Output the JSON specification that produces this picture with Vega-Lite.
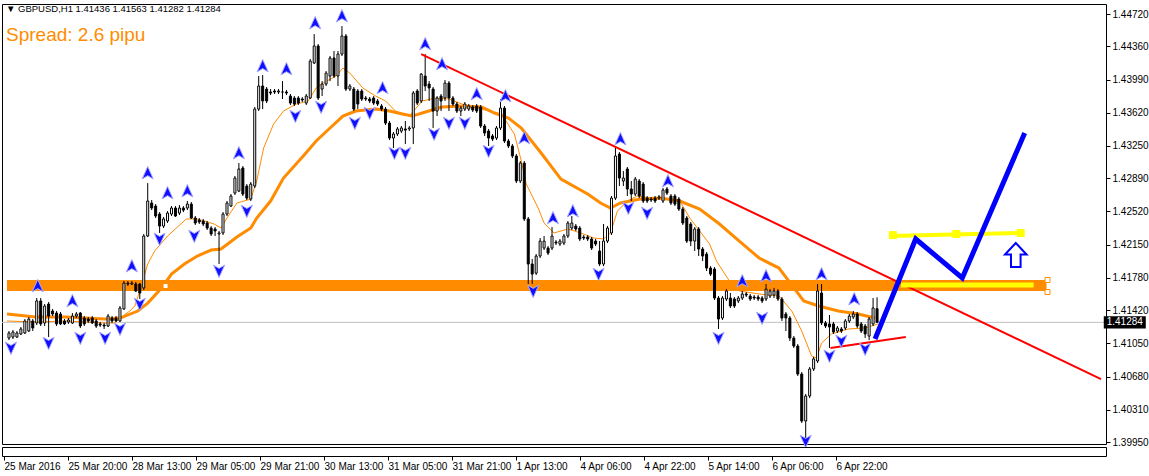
{
"$schema": "https://vega.github.io/schema/vega-lite/v6.json",
"background": "white",
"padding": {"left": 1, "top": 3, "right": 0, "bottom": 0},
"spacing": 3,
"bounds": "flush",
"config": {
 "view": {"stroke": "#000", "strokeWidth": 1},
 "axis": {"labelFont": "Liberation Sans", "labelFontSize": 10, "labelColor": "#000", "tickColor": "#000", "domain": false, "grid": false, "labelOverlap": false}
},
"datasets": {
"candles": [
{"i":0,"o":1.41109,"h":1.41187,"l":1.41086,"c":1.41165},
{"i":1,"o":1.41120,"h":1.41198,"l":1.41098,"c":1.41176},
{"i":2,"o":1.41120,"h":1.41187,"l":1.41109,"c":1.41165},
{"i":3,"o":1.41154,"h":1.41232,"l":1.41142,"c":1.41210},
{"i":4,"o":1.41165,"h":1.41321,"l":1.41154,"c":1.41299},
{"i":5,"o":1.41187,"h":1.41343,"l":1.41176,"c":1.41321},
{"i":6,"o":1.41299,"h":1.41321,"l":1.41187,"c":1.41221},
{"i":7,"o":1.41277,"h":1.41555,"l":1.41254,"c":1.41522},
{"i":8,"o":1.41522,"h":1.41555,"l":1.41243,"c":1.41266},
{"i":9,"o":1.41277,"h":1.41488,"l":1.41243,"c":1.41466},
{"i":10,"o":1.41488,"h":1.41511,"l":1.41120,"c":1.41354},
{"i":11,"o":1.41410,"h":1.41433,"l":1.41354,"c":1.41377},
{"i":12,"o":1.41388,"h":1.41410,"l":1.41243,"c":1.41266},
{"i":13,"o":1.41377,"h":1.41399,"l":1.41254,"c":1.41266},
{"i":14,"o":1.41299,"h":1.41321,"l":1.41254,"c":1.41266},
{"i":15,"o":1.41288,"h":1.41332,"l":1.41266,"c":1.41310},
{"i":16,"o":1.41277,"h":1.41388,"l":1.41266,"c":1.41354},
{"i":17,"o":1.41354,"h":1.41399,"l":1.41332,"c":1.41377},
{"i":18,"o":1.41388,"h":1.41399,"l":1.41221,"c":1.41243},
{"i":19,"o":1.41332,"h":1.41354,"l":1.41243,"c":1.41266},
{"i":20,"o":1.41321,"h":1.41343,"l":1.41277,"c":1.41299},
{"i":21,"o":1.41332,"h":1.41354,"l":1.41266,"c":1.41277},
{"i":22,"o":1.41299,"h":1.41321,"l":1.41221,"c":1.41243},
{"i":23,"o":1.41266,"h":1.41288,"l":1.41232,"c":1.41254},
{"i":24,"o":1.41254,"h":1.41277,"l":1.41210,"c":1.41243},
{"i":25,"o":1.41243,"h":1.41377,"l":1.41232,"c":1.41354},
{"i":26,"o":1.41332,"h":1.41354,"l":1.41277,"c":1.41299},
{"i":27,"o":1.41332,"h":1.41354,"l":1.41288,"c":1.41299},
{"i":28,"o":1.41299,"h":1.41466,"l":1.41288,"c":1.41444},
{"i":29,"o":1.41433,"h":1.41744,"l":1.41421,"c":1.41722},
{"i":30,"o":1.41722,"h":1.41744,"l":1.41689,"c":1.41711},
{"i":31,"o":1.41711,"h":1.41744,"l":1.41700,"c":1.41722},
{"i":32,"o":1.41711,"h":1.41733,"l":1.41622,"c":1.41633},
{"i":33,"o":1.41711,"h":1.41722,"l":1.41544,"c":1.41611},
{"i":34,"o":1.41667,"h":1.42269,"l":1.41644,"c":1.42246},
{"i":35,"o":1.42246,"h":1.42836,"l":1.42235,"c":1.42636},
{"i":36,"o":1.42614,"h":1.42647,"l":1.42535,"c":1.42558},
{"i":37,"o":1.42580,"h":1.42602,"l":1.42447,"c":1.42469},
{"i":38,"o":1.42491,"h":1.42513,"l":1.42280,"c":1.42357},
{"i":39,"o":1.42357,"h":1.42458,"l":1.42335,"c":1.42436},
{"i":40,"o":1.42413,"h":1.42524,"l":1.42391,"c":1.42502},
{"i":41,"o":1.42491,"h":1.42580,"l":1.42469,"c":1.42558},
{"i":42,"o":1.42558,"h":1.42580,"l":1.42458,"c":1.42469},
{"i":43,"o":1.42502,"h":1.42591,"l":1.42480,"c":1.42558},
{"i":44,"o":1.42558,"h":1.42580,"l":1.42513,"c":1.42535},
{"i":45,"o":1.42558,"h":1.42636,"l":1.42535,"c":1.42602},
{"i":46,"o":1.42602,"h":1.42625,"l":1.42436,"c":1.42447},
{"i":47,"o":1.42447,"h":1.42469,"l":1.42369,"c":1.42391},
{"i":48,"o":1.42424,"h":1.42447,"l":1.42380,"c":1.42402},
{"i":49,"o":1.42413,"h":1.42436,"l":1.42357,"c":1.42380},
{"i":50,"o":1.42391,"h":1.42413,"l":1.42313,"c":1.42335},
{"i":51,"o":1.42335,"h":1.42357,"l":1.42246,"c":1.42269},
{"i":52,"o":1.42324,"h":1.42346,"l":1.42246,"c":1.42302},
{"i":53,"o":1.42269,"h":1.42302,"l":1.41934,"c":1.42280},
{"i":54,"o":1.42280,"h":1.42513,"l":1.42257,"c":1.42491},
{"i":55,"o":1.42491,"h":1.42636,"l":1.42469,"c":1.42614},
{"i":56,"o":1.42580,"h":1.42714,"l":1.42569,"c":1.42692},
{"i":57,"o":1.42725,"h":1.42915,"l":1.42703,"c":1.42892},
{"i":58,"o":1.42747,"h":1.43059,"l":1.42736,"c":1.42993},
{"i":59,"o":1.43004,"h":1.43026,"l":1.42692,"c":1.42714},
{"i":60,"o":1.42803,"h":1.42825,"l":1.42647,"c":1.42669},
{"i":61,"o":1.42658,"h":1.42848,"l":1.42636,"c":1.42825},
{"i":62,"o":1.42803,"h":1.43684,"l":1.42781,"c":1.43661},
{"i":63,"o":1.43661,"h":1.44029,"l":1.43639,"c":1.43918},
{"i":64,"o":1.43918,"h":1.44040,"l":1.43661,"c":1.43751},
{"i":65,"o":1.43884,"h":1.43907,"l":1.43728,"c":1.43751},
{"i":66,"o":1.43851,"h":1.43884,"l":1.43817,"c":1.43840},
{"i":67,"o":1.43862,"h":1.43884,"l":1.43829,"c":1.43851},
{"i":68,"o":1.43851,"h":1.43884,"l":1.43829,"c":1.43862},
{"i":69,"o":1.43851,"h":1.43973,"l":1.43773,"c":1.43851},
{"i":70,"o":1.43851,"h":1.43873,"l":1.43817,"c":1.43840},
{"i":71,"o":1.43806,"h":1.43829,"l":1.43706,"c":1.43728},
{"i":72,"o":1.43784,"h":1.43806,"l":1.43695,"c":1.43717},
{"i":73,"o":1.43784,"h":1.43806,"l":1.43706,"c":1.43728},
{"i":74,"o":1.43773,"h":1.43795,"l":1.43740,"c":1.43762},
{"i":75,"o":1.43728,"h":1.43829,"l":1.43706,"c":1.43806},
{"i":76,"o":1.43784,"h":1.44219,"l":1.43773,"c":1.44196},
{"i":77,"o":1.44174,"h":1.44497,"l":1.44163,"c":1.44364},
{"i":78,"o":1.44364,"h":1.44386,"l":1.43762,"c":1.43784},
{"i":79,"o":1.43884,"h":1.43973,"l":1.43806,"c":1.43940},
{"i":80,"o":1.43940,"h":1.44085,"l":1.43918,"c":1.44062},
{"i":81,"o":1.44029,"h":1.44252,"l":1.43973,"c":1.44230},
{"i":82,"o":1.44230,"h":1.44308,"l":1.44007,"c":1.44029},
{"i":83,"o":1.44029,"h":1.44308,"l":1.43918,"c":1.44274},
{"i":84,"o":1.44274,"h":1.44586,"l":1.44252,"c":1.44475},
{"i":85,"o":1.44475,"h":1.44497,"l":1.43862,"c":1.43884},
{"i":86,"o":1.43884,"h":1.43940,"l":1.43862,"c":1.43918},
{"i":87,"o":1.43884,"h":1.43907,"l":1.43639,"c":1.43661},
{"i":88,"o":1.43862,"h":1.43884,"l":1.43661,"c":1.43717},
{"i":89,"o":1.43862,"h":1.43884,"l":1.43751,"c":1.43773},
{"i":90,"o":1.43784,"h":1.43806,"l":1.43751,"c":1.43773},
{"i":91,"o":1.43773,"h":1.43795,"l":1.43728,"c":1.43751},
{"i":92,"o":1.43784,"h":1.43806,"l":1.43706,"c":1.43728},
{"i":93,"o":1.43751,"h":1.43773,"l":1.43695,"c":1.43717},
{"i":94,"o":1.43695,"h":1.43717,"l":1.43639,"c":1.43661},
{"i":95,"o":1.43661,"h":1.43684,"l":1.43483,"c":1.43505},
{"i":96,"o":1.43505,"h":1.43528,"l":1.43316,"c":1.43338},
{"i":97,"o":1.43338,"h":1.43405,"l":1.43227,"c":1.43383},
{"i":98,"o":1.43383,"h":1.43461,"l":1.43361,"c":1.43439},
{"i":99,"o":1.43416,"h":1.43472,"l":1.43394,"c":1.43450},
{"i":100,"o":1.43439,"h":1.43528,"l":1.43271,"c":1.43427},
{"i":101,"o":1.43439,"h":1.43472,"l":1.43416,"c":1.43450},
{"i":102,"o":1.43450,"h":1.43862,"l":1.43271,"c":1.43840},
{"i":103,"o":1.43862,"h":1.43884,"l":1.43706,"c":1.43728},
{"i":104,"o":1.43751,"h":1.44062,"l":1.43728,"c":1.44051},
{"i":105,"o":1.44029,"h":1.44274,"l":1.43862,"c":1.43918},
{"i":106,"o":1.43940,"h":1.43973,"l":1.43751,"c":1.43896},
{"i":107,"o":1.43884,"h":1.43907,"l":1.43450,"c":1.43639},
{"i":108,"o":1.43639,"h":1.43806,"l":1.43583,"c":1.43784},
{"i":109,"o":1.43806,"h":1.43829,"l":1.43639,"c":1.43751},
{"i":110,"o":1.43784,"h":1.43985,"l":1.43751,"c":1.43951},
{"i":111,"o":1.43951,"h":1.43973,"l":1.43639,"c":1.43784},
{"i":112,"o":1.43784,"h":1.43806,"l":1.43695,"c":1.43717},
{"i":113,"o":1.43717,"h":1.43740,"l":1.43617,"c":1.43639},
{"i":114,"o":1.43639,"h":1.43695,"l":1.43583,"c":1.43672},
{"i":115,"o":1.43661,"h":1.43740,"l":1.43639,"c":1.43717},
{"i":116,"o":1.43661,"h":1.43717,"l":1.43639,"c":1.43695},
{"i":117,"o":1.43684,"h":1.43706,"l":1.43628,"c":1.43650},
{"i":118,"o":1.43695,"h":1.43717,"l":1.43617,"c":1.43639},
{"i":119,"o":1.43684,"h":1.43706,"l":1.43450,"c":1.43472},
{"i":120,"o":1.43472,"h":1.43494,"l":1.43361,"c":1.43394},
{"i":121,"o":1.43416,"h":1.43439,"l":1.43249,"c":1.43338},
{"i":122,"o":1.43361,"h":1.43383,"l":1.43305,"c":1.43327},
{"i":123,"o":1.43338,"h":1.43472,"l":1.43316,"c":1.43450},
{"i":124,"o":1.43450,"h":1.43773,"l":1.43427,"c":1.43672},
{"i":125,"o":1.43672,"h":1.43695,"l":1.43283,"c":1.43305},
{"i":126,"o":1.43305,"h":1.43327,"l":1.43227,"c":1.43249},
{"i":127,"o":1.43249,"h":1.43271,"l":1.43115,"c":1.43138},
{"i":128,"o":1.43138,"h":1.43160,"l":1.42836,"c":1.42859},
{"i":129,"o":1.42859,"h":1.43082,"l":1.42836,"c":1.43059},
{"i":130,"o":1.43059,"h":1.43082,"l":1.42413,"c":1.42436},
{"i":131,"o":1.42436,"h":1.42458,"l":1.41711,"c":1.41934},
{"i":132,"o":1.41934,"h":1.41990,"l":1.41711,"c":1.41822},
{"i":133,"o":1.41833,"h":1.42045,"l":1.41811,"c":1.42023},
{"i":134,"o":1.42023,"h":1.42224,"l":1.42001,"c":1.42190},
{"i":135,"o":1.42112,"h":1.42246,"l":1.42090,"c":1.42190},
{"i":136,"o":1.42112,"h":1.42134,"l":1.42034,"c":1.42056},
{"i":137,"o":1.42112,"h":1.42346,"l":1.42090,"c":1.42246},
{"i":138,"o":1.42179,"h":1.42201,"l":1.42145,"c":1.42168},
{"i":139,"o":1.42157,"h":1.42213,"l":1.42134,"c":1.42190},
{"i":140,"o":1.42168,"h":1.42269,"l":1.42145,"c":1.42246},
{"i":141,"o":1.42246,"h":1.42413,"l":1.42224,"c":1.42391},
{"i":142,"o":1.42335,"h":1.42469,"l":1.42313,"c":1.42391},
{"i":143,"o":1.42357,"h":1.42380,"l":1.42302,"c":1.42324},
{"i":144,"o":1.42335,"h":1.42357,"l":1.42190,"c":1.42213},
{"i":145,"o":1.42235,"h":1.42257,"l":1.42201,"c":1.42224},
{"i":146,"o":1.42235,"h":1.42257,"l":1.42190,"c":1.42213},
{"i":147,"o":1.42213,"h":1.42235,"l":1.42090,"c":1.42112},
{"i":148,"o":1.42190,"h":1.42213,"l":1.42134,"c":1.42157},
{"i":149,"o":1.42079,"h":1.42190,"l":1.41911,"c":1.41934},
{"i":150,"o":1.41934,"h":1.42380,"l":1.41911,"c":1.42190},
{"i":151,"o":1.42190,"h":1.42357,"l":1.42168,"c":1.42335},
{"i":152,"o":1.42280,"h":1.42692,"l":1.42257,"c":1.42669},
{"i":153,"o":1.42669,"h":1.43227,"l":1.42647,"c":1.43138},
{"i":154,"o":1.43160,"h":1.43182,"l":1.42803,"c":1.42892},
{"i":155,"o":1.42859,"h":1.42970,"l":1.42803,"c":1.42892},
{"i":156,"o":1.42993,"h":1.43015,"l":1.42692,"c":1.42770},
{"i":157,"o":1.42770,"h":1.42859,"l":1.42636,"c":1.42714},
{"i":158,"o":1.42714,"h":1.42904,"l":1.42692,"c":1.42881},
{"i":159,"o":1.42859,"h":1.42881,"l":1.42669,"c":1.42692},
{"i":160,"o":1.42825,"h":1.42848,"l":1.42614,"c":1.42636},
{"i":161,"o":1.42669,"h":1.42692,"l":1.42614,"c":1.42636},
{"i":162,"o":1.42658,"h":1.42681,"l":1.42625,"c":1.42647},
{"i":163,"o":1.42669,"h":1.42692,"l":1.42614,"c":1.42636},
{"i":164,"o":1.42669,"h":1.42703,"l":1.42647,"c":1.42681},
{"i":165,"o":1.42636,"h":1.42781,"l":1.42614,"c":1.42759},
{"i":166,"o":1.42770,"h":1.42792,"l":1.42703,"c":1.42725},
{"i":167,"o":1.42692,"h":1.42714,"l":1.42591,"c":1.42614},
{"i":168,"o":1.42692,"h":1.42714,"l":1.42580,"c":1.42602},
{"i":169,"o":1.42658,"h":1.42681,"l":1.42524,"c":1.42547},
{"i":170,"o":1.42547,"h":1.42569,"l":1.42369,"c":1.42391},
{"i":171,"o":1.42447,"h":1.42469,"l":1.42168,"c":1.42190},
{"i":172,"o":1.42380,"h":1.42402,"l":1.42134,"c":1.42190},
{"i":173,"o":1.42190,"h":1.42346,"l":1.42079,"c":1.42324},
{"i":174,"o":1.42324,"h":1.42346,"l":1.42023,"c":1.42101},
{"i":175,"o":1.42101,"h":1.42123,"l":1.41967,"c":1.42023},
{"i":176,"o":1.42045,"h":1.42068,"l":1.41856,"c":1.41889},
{"i":177,"o":1.41889,"h":1.41911,"l":1.41800,"c":1.41822},
{"i":178,"o":1.41878,"h":1.41900,"l":1.41533,"c":1.41555},
{"i":179,"o":1.41555,"h":1.41577,"l":1.41210,"c":1.41321},
{"i":180,"o":1.41332,"h":1.41577,"l":1.41310,"c":1.41555},
{"i":181,"o":1.41544,"h":1.41655,"l":1.41522,"c":1.41633},
{"i":182,"o":1.41555,"h":1.41611,"l":1.41444,"c":1.41466},
{"i":183,"o":1.41544,"h":1.41566,"l":1.41444,"c":1.41466},
{"i":184,"o":1.41522,"h":1.41577,"l":1.41499,"c":1.41555},
{"i":185,"o":1.41555,"h":1.41633,"l":1.41533,"c":1.41600},
{"i":186,"o":1.41600,"h":1.41622,"l":1.41566,"c":1.41588},
{"i":187,"o":1.41577,"h":1.41600,"l":1.41522,"c":1.41544},
{"i":188,"o":1.41566,"h":1.41588,"l":1.41533,"c":1.41555},
{"i":189,"o":1.41566,"h":1.41588,"l":1.41522,"c":1.41544},
{"i":190,"o":1.41555,"h":1.41577,"l":1.41499,"c":1.41522},
{"i":191,"o":1.41544,"h":1.41711,"l":1.41522,"c":1.41655},
{"i":192,"o":1.41577,"h":1.41655,"l":1.41555,"c":1.41633},
{"i":193,"o":1.41588,"h":1.41667,"l":1.41555,"c":1.41633},
{"i":194,"o":1.41633,"h":1.41655,"l":1.41522,"c":1.41544},
{"i":195,"o":1.41544,"h":1.41566,"l":1.41299,"c":1.41332},
{"i":196,"o":1.41377,"h":1.41399,"l":1.41187,"c":1.41332},
{"i":197,"o":1.41332,"h":1.41354,"l":1.41076,"c":1.41109},
{"i":198,"o":1.41109,"h":1.41131,"l":1.40998,"c":1.41020},
{"i":199,"o":1.41020,"h":1.41042,"l":1.40686,"c":1.40708},
{"i":200,"o":1.40708,"h":1.40730,"l":1.40162,"c":1.40184},
{"i":201,"o":1.40184,"h":1.40486,"l":1.39995,"c":1.40463},
{"i":202,"o":1.40463,"h":1.40786,"l":1.40440,"c":1.40764},
{"i":203,"o":1.40764,"h":1.40898,"l":1.40741,"c":1.40876},
{"i":204,"o":1.40853,"h":1.41711,"l":1.40831,"c":1.41633},
{"i":205,"o":1.41611,"h":1.41711,"l":1.41254,"c":1.41277},
{"i":206,"o":1.41277,"h":1.41299,"l":1.41221,"c":1.41243},
{"i":207,"o":1.41266,"h":1.41366,"l":1.40998,"c":1.41232},
{"i":208,"o":1.41266,"h":1.41288,"l":1.41154,"c":1.41176},
{"i":209,"o":1.41187,"h":1.41243,"l":1.41165,"c":1.41221},
{"i":210,"o":1.41210,"h":1.41232,"l":1.41165,"c":1.41187},
{"i":211,"o":1.41221,"h":1.41321,"l":1.41198,"c":1.41299},
{"i":212,"o":1.41299,"h":1.41377,"l":1.41277,"c":1.41354},
{"i":213,"o":1.41343,"h":1.41410,"l":1.41321,"c":1.41377},
{"i":214,"o":1.41377,"h":1.41399,"l":1.41221,"c":1.41243},
{"i":215,"o":1.41266,"h":1.41288,"l":1.41165,"c":1.41187},
{"i":216,"o":1.41243,"h":1.41266,"l":1.41109,"c":1.41154},
{"i":217,"o":1.41131,"h":1.41343,"l":1.41086,"c":1.41321},
{"i":218,"o":1.41266,"h":1.41555,"l":1.41243,"c":1.41444},
{"i":219,"o":1.41436,"h":1.41563,"l":1.41282,"c":1.41284}
],
"thick": [
{"i":-0.5,"p":1.41377},{"i":6.75,"p":1.41343},{"i":14.25,"p":1.41343},{"i":24.25,"p":1.41321},{"i":28,"p":1.41332},
{"i":32.5,"p":1.41410},{"i":35,"p":1.41499},{"i":38.5,"p":1.41667},{"i":41,"p":1.41822},{"i":44.25,"p":1.41934},
{"i":47.5,"p":1.42023},{"i":51,"p":1.42090},{"i":53.5,"p":1.42101},{"i":57.5,"p":1.42235},{"i":61,"p":1.42335},
{"i":62.5,"p":1.42447},{"i":66,"p":1.42636},{"i":69.25,"p":1.42892},{"i":74.25,"p":1.43138},{"i":77.5,"p":1.43305},
{"i":81,"p":1.43450},{"i":84.25,"p":1.43583},{"i":87.5,"p":1.43639},{"i":92.5,"p":1.43661},{"i":96,"p":1.43639},
{"i":99.25,"p":1.43606},{"i":101.75,"p":1.43583},{"i":104.25,"p":1.43617},{"i":109.25,"p":1.43684},{"i":114.25,"p":1.43695},
{"i":119.25,"p":1.43684},{"i":122.5,"p":1.43617},{"i":126,"p":1.43561},{"i":129.25,"p":1.43450},{"i":134.25,"p":1.43171},
{"i":139.25,"p":1.42881},{"i":146,"p":1.42714},{"i":149.25,"p":1.42614},{"i":151.75,"p":1.42558},{"i":154.25,"p":1.42614},
{"i":159.25,"p":1.42658},{"i":164.25,"p":1.42669},{"i":169.25,"p":1.42636},{"i":174.25,"p":1.42547},{"i":179.25,"p":1.42380},
{"i":184.25,"p":1.42190},{"i":189.25,"p":1.42001},{"i":194.25,"p":1.41889},{"i":196.75,"p":1.41744},{"i":200.5,"p":1.41522},
{"i":204.25,"p":1.41466},{"i":209.25,"p":1.41410},{"i":214.25,"p":1.41377},{"i":218.5,"p":1.41332}
],
"thin": [
{"i":-0.5,"p":1.41299},{"i":6.75,"p":1.41288},{"i":14.25,"p":1.41299},{"i":24.25,"p":1.41277},{"i":26.75,"p":1.41277},
{"i":28,"p":1.41332},{"i":30.5,"p":1.41410},{"i":31.75,"p":1.41466},{"i":33,"p":1.41633},{"i":35,"p":1.41934},
{"i":36.75,"p":1.42079},{"i":40,"p":1.42246},{"i":44.75,"p":1.42436},{"i":47.5,"p":1.42436},{"i":51.75,"p":1.42380},
{"i":53.5,"p":1.42335},{"i":55,"p":1.42447},{"i":57.5,"p":1.42614},{"i":61,"p":1.42658},{"i":62.5,"p":1.42859},
{"i":64.25,"p":1.43227},{"i":66.75,"p":1.43494},{"i":69.25,"p":1.43639},{"i":72.5,"p":1.43717},{"i":75.5,"p":1.43751},
{"i":77.5,"p":1.43896},{"i":79.25,"p":1.43951},{"i":82.5,"p":1.44029},{"i":84.25,"p":1.44118},{"i":86,"p":1.44062},
{"i":89.25,"p":1.43896},{"i":92.5,"p":1.43806},{"i":95,"p":1.43751},{"i":97.5,"p":1.43639},{"i":101,"p":1.43583},
{"i":104.25,"p":1.43751},{"i":107.5,"p":1.43784},{"i":111,"p":1.43773},{"i":114.25,"p":1.43717},{"i":117.5,"p":1.43684},
{"i":121,"p":1.43639},{"i":124.25,"p":1.43606},{"i":127.5,"p":1.43383},{"i":129.25,"p":1.43082},{"i":130.5,"p":1.42825},
{"i":133.5,"p":1.42558},{"i":135,"p":1.42391},{"i":137.5,"p":1.42280},{"i":141,"p":1.42324},{"i":144.25,"p":1.42280},
{"i":147.5,"p":1.42224},{"i":150,"p":1.42213},{"i":151.75,"p":1.42280},{"i":153.5,"p":1.42524},{"i":156,"p":1.42636},
{"i":158.5,"p":1.42692},{"i":161.75,"p":1.42669},{"i":166,"p":1.42658},{"i":169.25,"p":1.42636},{"i":171.75,"p":1.42447},
{"i":174.25,"p":1.42302},{"i":176.75,"p":1.42157},{"i":178.5,"p":1.41967},{"i":181.75,"p":1.41744},{"i":184.25,"p":1.41633},
{"i":189.25,"p":1.41600},{"i":194.25,"p":1.41577},{"i":197.5,"p":1.41410},{"i":200,"p":1.41187},{"i":202.5,"p":1.40909},
{"i":203.75,"p":1.40887},{"i":205,"p":1.41053},{"i":207.5,"p":1.41154},{"i":211.75,"p":1.41210},{"i":216,"p":1.41221},
{"i":219.25,"p":1.41266}
],
"fractals": [
{"i":7.25,"p":1.41689,"d":"up"},{"i":16,"p":1.41522,"d":"up"},{"i":31,"p":1.41911,"d":"up"},{"i":35,"p":1.42948,"d":"up"},
{"i":40,"p":1.42725,"d":"up"},{"i":45,"p":1.42747,"d":"up"},{"i":58,"p":1.43171,"d":"up"},{"i":64,"p":1.44141,"d":"up"},
{"i":70,"p":1.44107,"d":"up"},{"i":77.25,"p":1.44620,"d":"up"},{"i":84,"p":1.44698,"d":"up"},{"i":94.25,"p":1.43896,"d":"up"},
{"i":105,"p":1.44386,"d":"up"},{"i":109.25,"p":1.44163,"d":"up"},{"i":118,"p":1.43829,"d":"up"},{"i":125.25,"p":1.43806,"d":"up"},
{"i":130,"p":1.43338,"d":"up"},{"i":137.25,"p":1.42447,"d":"up"},{"i":142.25,"p":1.42524,"d":"up"},{"i":154.25,"p":1.43327,"d":"up"},
{"i":166.25,"p":1.42859,"d":"up"},{"i":185,"p":1.41744,"d":"up"},{"i":191,"p":1.41800,"d":"up"},{"i":205,"p":1.41822,"d":"up"},
{"i":213.25,"p":1.41544,"d":"up"},
{"i":0.5,"p":1.40998,"d":"down"},{"i":10,"p":1.41053,"d":"down"},{"i":18,"p":1.41109,"d":"down"},{"i":24.25,"p":1.41109,"d":"down"},
{"i":28,"p":1.41210,"d":"down"},{"i":33,"p":1.41488,"d":"down"},{"i":38,"p":1.42213,"d":"down"},{"i":46.75,"p":1.42246,"d":"down"},
{"i":53,"p":1.41856,"d":"down"},{"i":60,"p":1.42524,"d":"down"},{"i":72.25,"p":1.43583,"d":"down"},{"i":78.75,"p":1.43684,"d":"down"},
{"i":87.25,"p":1.43505,"d":"down"},{"i":91,"p":1.43617,"d":"down"},{"i":97.25,"p":1.43171,"d":"down"},{"i":100,"p":1.43171,"d":"down"},
{"i":107.25,"p":1.43383,"d":"down"},{"i":111,"p":1.43505,"d":"down"},{"i":115,"p":1.43505,"d":"down"},{"i":121,"p":1.43193,"d":"down"},
{"i":132.25,"p":1.41633,"d":"down"},{"i":148.75,"p":1.41822,"d":"down"},{"i":156.25,"p":1.42558,"d":"down"},{"i":161,"p":1.42502,"d":"down"},
{"i":179,"p":1.41109,"d":"down"},{"i":190,"p":1.41332,"d":"down"},{"i":201,"p":1.39961,"d":"down"},{"i":207,"p":1.40909,"d":"down"},
{"i":210,"p":1.41076,"d":"down"},{"i":216,"p":1.40987,"d":"down"}
],
"lines": [
{"g":"trend","i":104,"p":1.44274},{"g":"trend","i":275.5,"p":1.40652},
{"g":"low","i":207.25,"p":1.40998},{"g":"low","i":226.25,"p":1.41120},
{"g":"y1","i":225,"p":1.41700},{"g":"y1","i":258.5,"p":1.41700},
{"g":"y2","i":222,"p":1.42246},{"g":"y2","i":256,"p":1.42280},
{"g":"blue","i":218.5,"p":1.41098},{"g":"blue","i":228.75,"p":1.42213},{"g":"blue","i":240.5,"p":1.41778},{"g":"blue","i":256.25,"p":1.43394}
],
"ysq": [{"i":223,"p":1.42257},{"i":239,"p":1.42269},{"i":255.25,"p":1.42280}],
"band": [{"i0":-0.5,"i1":261.75,"p0":1.41633,"p1":1.41756}],
"handles": [{"i":39.5,"p":1.41689,"k":"mid"},{"i":262,"p":1.41756,"k":"end"},{"i":262,"p":1.41622,"k":"end"}],
"bigarrow": [{"i":254,"p":1.42034}],
"last": [{"i":281.5,"p":1.41284,"label":"1.41284"}]
},
"vconcat": [
{
 "width": 1104,
 "height": 440,
 "title": {
  "text": "▼ GBPUSD,H1  1.41436 1.41563 1.41282 1.41284",
  "subtitle": "\u2002Spread: 2.6 pipu",
  "anchor": "start", "frame": "group", "offset": -41, "dx": 4,
  "font": "Liberation Sans", "fontSize": 9.5, "fontWeight": "normal", "color": "#000",
  "subtitleFont": "Liberation Sans", "subtitleFontSize": 19, "subtitleColor": "#ff8c00", "subtitlePadding": 13
 },
 "layer": [
  {"data": {"name": "last"},
   "mark": {"type": "rule", "color": "#c0c0c0", "strokeWidth": 1},
   "encoding": {"y": {"field": "p", "type": "quantitative", "title": null,
     "scale": {"domain": [1.39928, 1.44832], "nice": false, "zero": false},
     "axis": {"orient": "right", "values": [1.4472,1.4436,1.4399,1.4362,1.4325,1.4289,1.4252,1.4215,1.4178,1.4142,1.4105,1.4068,1.4031,1.3995], "tickCount": 40, "format": ".5f", "tickSize": 4, "labelPadding": 2, "labelOverlap": false, "labelBound": false, "labelFlush": false, "labelFontSize": 10}}}},
  {"data": {"name": "band"},
   "mark": {"type": "rect", "color": "#ff8c00"},
   "encoding": {
    "x": {"field": "i0", "type": "quantitative", "title": null, "axis": null, "scale": {"domain": [-0.5, 275.5], "nice": false, "zero": false}},
    "x2": {"field": "i1"},
    "y": {"field": "p0", "type": "quantitative", "title": null, "scale": {"domain": [1.39928, 1.44832], "nice": false, "zero": false}},
    "y2": {"field": "p1"}}},
  {"data": {"name": "thick"},
   "mark": {"type": "line", "color": "#ff8c00", "strokeWidth": 3, "clip": true},
   "encoding": {
    "x": {"field": "i", "type": "quantitative", "title": null, "axis": null, "scale": {"domain": [-0.5, 275.5], "nice": false, "zero": false}},
    "y": {"field": "p", "type": "quantitative", "title": null, "scale": {"domain": [1.39928, 1.44832], "nice": false, "zero": false}}}},
  {"data": {"name": "thin"},
   "mark": {"type": "line", "color": "#ff8c00", "strokeWidth": 1, "clip": true},
   "encoding": {
    "x": {"field": "i", "type": "quantitative", "title": null, "axis": null, "scale": {"domain": [-0.5, 275.5], "nice": false, "zero": false}},
    "y": {"field": "p", "type": "quantitative", "title": null, "scale": {"domain": [1.39928, 1.44832], "nice": false, "zero": false}}}},
  {"data": {"name": "candles"},
   "mark": {"type": "rule", "color": "#000", "strokeWidth": 1},
   "encoding": {
    "x": {"field": "i", "type": "quantitative", "title": null, "axis": null, "scale": {"domain": [-0.5, 275.5], "nice": false, "zero": false}},
    "y": {"field": "h", "type": "quantitative", "title": null, "scale": {"domain": [1.39928, 1.44832], "nice": false, "zero": false}},
    "y2": {"field": "l"}}},
  {"data": {"name": "candles"},
   "mark": {"type": "bar", "orient": "vertical", "size": 2, "stroke": "#000", "strokeWidth": 1},
   "encoding": {
    "x": {"field": "i", "type": "quantitative", "title": null, "axis": null, "scale": {"domain": [-0.5, 275.5], "nice": false, "zero": false}},
    "y": {"field": "o", "type": "quantitative", "title": null, "scale": {"domain": [1.39928, 1.44832], "nice": false, "zero": false}},
    "y2": {"field": "c"},
    "fill": {"condition": {"test": "datum.c >= datum.o", "value": "#ffffff"}, "value": "#000000"}}},
  {"data": {"name": "lines"},
   "transform": [{"filter": "datum.g === 'trend'"}],
   "mark": {"type": "line", "color": "#ff0000", "strokeWidth": 2, "clip": true},
   "encoding": {
    "x": {"field": "i", "type": "quantitative", "title": null, "axis": null, "scale": {"domain": [-0.5, 275.5], "nice": false, "zero": false}},
    "y": {"field": "p", "type": "quantitative", "title": null, "scale": {"domain": [1.39928, 1.44832], "nice": false, "zero": false}}}},
  {"data": {"name": "lines"},
   "transform": [{"filter": "datum.g === 'low'"}],
   "mark": {"type": "line", "color": "#ff0000", "strokeWidth": 2},
   "encoding": {
    "x": {"field": "i", "type": "quantitative", "title": null, "axis": null, "scale": {"domain": [-0.5, 275.5], "nice": false, "zero": false}},
    "y": {"field": "p", "type": "quantitative", "title": null, "scale": {"domain": [1.39928, 1.44832], "nice": false, "zero": false}}}},
  {"data": {"name": "lines"},
   "transform": [{"filter": "datum.g === 'y1'"}],
   "mark": {"type": "line", "color": "#ffff00", "strokeWidth": 5},
   "encoding": {
    "x": {"field": "i", "type": "quantitative", "title": null, "axis": null, "scale": {"domain": [-0.5, 275.5], "nice": false, "zero": false}},
    "y": {"field": "p", "type": "quantitative", "title": null, "scale": {"domain": [1.39928, 1.44832], "nice": false, "zero": false}}}},
  {"data": {"name": "lines"},
   "transform": [{"filter": "datum.g === 'y2'"}],
   "mark": {"type": "line", "color": "#ffff00", "strokeWidth": 4},
   "encoding": {
    "x": {"field": "i", "type": "quantitative", "title": null, "axis": null, "scale": {"domain": [-0.5, 275.5], "nice": false, "zero": false}},
    "y": {"field": "p", "type": "quantitative", "title": null, "scale": {"domain": [1.39928, 1.44832], "nice": false, "zero": false}}}},
  {"data": {"name": "ysq"},
   "mark": {"type": "point", "shape": "square", "filled": true, "color": "#ffff00", "opacity": 1, "size": 64},
   "encoding": {
    "x": {"field": "i", "type": "quantitative", "title": null, "axis": null, "scale": {"domain": [-0.5, 275.5], "nice": false, "zero": false}},
    "y": {"field": "p", "type": "quantitative", "title": null, "scale": {"domain": [1.39928, 1.44832], "nice": false, "zero": false}}}},
  {"data": {"name": "lines"},
   "transform": [{"filter": "datum.g === 'blue'"}],
   "mark": {"type": "line", "color": "#0000ff", "strokeWidth": 5, "strokeJoin": "miter"},
   "encoding": {
    "x": {"field": "i", "type": "quantitative", "title": null, "axis": null, "scale": {"domain": [-0.5, 275.5], "nice": false, "zero": false}},
    "y": {"field": "p", "type": "quantitative", "title": null, "scale": {"domain": [1.39928, 1.44832], "nice": false, "zero": false}}}},
  {"data": {"name": "fractals"},
   "transform": [{"filter": "datum.d === 'up'"}],
   "mark": {"type": "point", "shape": "M0,-1 L0.85,0.9 L0,0.4 L-0.85,0.9 Z", "filled": true, "fill": "#1010ff", "stroke": "#a8a8ff", "strokeWidth": 1, "opacity": 1, "size": 170},
   "encoding": {
    "x": {"field": "i", "type": "quantitative", "title": null, "axis": null, "scale": {"domain": [-0.5, 275.5], "nice": false, "zero": false}},
    "y": {"field": "p", "type": "quantitative", "title": null, "scale": {"domain": [1.39928, 1.44832], "nice": false, "zero": false}}}},
  {"data": {"name": "fractals"},
   "transform": [{"filter": "datum.d === 'down'"}],
   "mark": {"type": "point", "shape": "M0,1 L0.85,-0.9 L0,-0.4 L-0.85,-0.9 Z", "filled": true, "fill": "#1010ff", "stroke": "#a8a8ff", "strokeWidth": 1, "opacity": 1, "size": 170},
   "encoding": {
    "x": {"field": "i", "type": "quantitative", "title": null, "axis": null, "scale": {"domain": [-0.5, 275.5], "nice": false, "zero": false}},
    "y": {"field": "p", "type": "quantitative", "title": null, "scale": {"domain": [1.39928, 1.44832], "nice": false, "zero": false}}}},
  {"data": {"name": "handles"},
   "transform": [{"filter": "datum.k === 'mid'"}],
   "mark": {"type": "point", "shape": "square", "filled": true, "color": "#ffffff", "opacity": 1, "size": 16},
   "encoding": {
    "x": {"field": "i", "type": "quantitative", "title": null, "axis": null, "scale": {"domain": [-0.5, 275.5], "nice": false, "zero": false}},
    "y": {"field": "p", "type": "quantitative", "title": null, "scale": {"domain": [1.39928, 1.44832], "nice": false, "zero": false}}}},
  {"data": {"name": "handles"},
   "transform": [{"filter": "datum.k === 'end'"}],
   "mark": {"type": "point", "shape": "square", "filled": false, "fill": "#ffffff", "stroke": "#ff8c00", "strokeWidth": 1, "opacity": 1, "size": 25},
   "encoding": {
    "x": {"field": "i", "type": "quantitative", "title": null, "axis": null, "scale": {"domain": [-0.5, 275.5], "nice": false, "zero": false}},
    "y": {"field": "p", "type": "quantitative", "title": null, "scale": {"domain": [1.39928, 1.44832], "nice": false, "zero": false}}}},
  {"data": {"name": "bigarrow"},
   "mark": {"type": "point", "shape": "M0,-1 L0.9,-0.05 L0.4,-0.05 L0.4,1 L-0.4,1 L-0.4,-0.05 L-0.9,-0.05 Z", "filled": false, "fill": "#ffffff", "stroke": "#0000ff", "strokeWidth": 2, "opacity": 1, "size": 576},
   "encoding": {
    "x": {"field": "i", "type": "quantitative", "title": null, "axis": null, "scale": {"domain": [-0.5, 275.5], "nice": false, "zero": false}},
    "y": {"field": "p", "type": "quantitative", "title": null, "scale": {"domain": [1.39928, 1.44832], "nice": false, "zero": false}}}},
  {"data": {"name": "last"},
   "mark": {"type": "point", "shape": "M-1,-0.29 L1,-0.29 L1,0.29 L-1,0.29 Z", "filled": true, "color": "#000000", "opacity": 1, "size": 1764},
   "encoding": {
    "x": {"field": "i", "type": "quantitative", "title": null, "axis": null, "scale": {"domain": [-0.5, 275.5], "nice": false, "zero": false}},
    "y": {"field": "p", "type": "quantitative", "title": null, "scale": {"domain": [1.39928, 1.44832], "nice": false, "zero": false}}}},
  {"data": {"name": "last"},
   "mark": {"type": "text", "color": "#ffffff", "font": "Liberation Sans", "fontSize": 10, "align": "center", "baseline": "middle"},
   "encoding": {
    "x": {"field": "i", "type": "quantitative", "title": null, "axis": null, "scale": {"domain": [-0.5, 275.5], "nice": false, "zero": false}},
    "y": {"field": "p", "type": "quantitative", "title": null, "scale": {"domain": [1.39928, 1.44832], "nice": false, "zero": false}},
    "text": {"field": "label"}}}
 ]
},
{
 "width": 1104,
 "height": 9,
 "data": {"values": []},
 "mark": {"type": "rule", "color": "#000"},
 "encoding": {
  "x": {"field": "i", "type": "quantitative", "title": null,
   "scale": {"domain": [-0.5, 275.5], "nice": false, "zero": false},
   "axis": {"values": [0,16,32,48,64,80,96,112,128,144,160,176,192,208], "tickCount": 40, "tickSize": 4, "labelAlign": "left", "labelPadding": 1, "labelFlush": false, "labelOverlap": false, "labelBound": false,
    "labelExpr": "['25 Mar 2016','25 Mar 20:00','28 Mar 13:00','29 Mar 05:00','29 Mar 21:00','30 Mar 13:00','31 Mar 05:00','31 Mar 21:00','1 Apr 13:00','4 Apr 06:00','4 Apr 22:00','5 Apr 14:00','6 Apr 06:00','6 Apr 22:00'][round(datum.value/16)]"}}
 }
}
]
}
